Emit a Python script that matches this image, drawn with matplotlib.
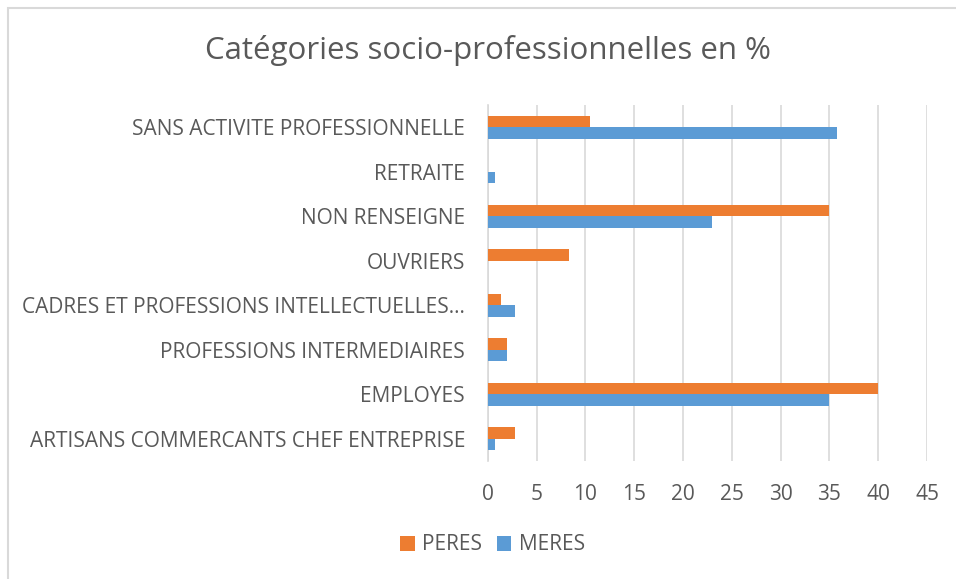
import matplotlib
matplotlib.use("Agg")
import matplotlib.pyplot as plt
from matplotlib.patches import Rectangle
import numpy as np

plt.rcParams['font.family'] = ['Open Sans', 'DejaVu Sans']

categories = [
    "ARTISANS COMMERCANTS CHEF ENTREPRISE",
    "EMPLOYES",
    "PROFESSIONS INTERMEDIAIRES",
    "CADRES ET PROFESSIONS INTELLECTUELLES…",
    "OUVRIERS",
    "NON RENSEIGNE",
    "RETRAITE",
    "SANS ACTIVITE PROFESSIONNELLE",
]
peres = [2.8, 40.0, 2.0, 1.4, 8.3, 35.0, 0.0, 10.5]
meres = [0.7, 35.0, 2.0, 2.8, 0.0, 23.0, 0.7, 35.8]
xticks = [0, 5, 10, 15, 20, 25, 30, 35, 40, 45]
title = "Catégories socio-professionnelles en %"

TXT = "#595959"
ORANGE = "#ED7D31"
BLUE = "#5B9BD5"

W, H = 956, 579
fig = plt.figure(figsize=(W / 100, H / 100), dpi=100)
ax = fig.add_axes([487.7 / W, 1 - 461 / H, (927 - 487.7) / W, (461 - 105) / H])

y = np.arange(len(categories))
h = 0.26
ax.barh(y + h / 2, peres, height=h, color=ORANGE, label="PERES", zorder=3)
ax.barh(y - h / 2, meres, height=h, color=BLUE, label="MERES", zorder=3)

ax.set_xlim(0, 45)
ax.set_ylim(-0.5, len(categories) - 0.5)
ax.set_xticks(xticks)
ax.set_xticklabels([str(t) for t in xticks])
ax.set_yticks(y)
ax.set_yticklabels(categories)
ax.tick_params(axis='both', length=0, colors=TXT, labelsize=15)
ax.tick_params(axis='y', pad=16.3)
ax.tick_params(axis='x', pad=16.5)
ax.grid(axis='x', color="#D9D9D9", linewidth=1.2, zorder=0)
for s in ['top', 'right', 'bottom']:
    ax.spines[s].set_visible(False)
ax.spines['left'].set_color("#D9D9D9")
ax.spines['left'].set_linewidth(1.2)

fig.text(487.5 / W, 1 - 51 / H, title, ha='center', va='center', fontsize=22.5, color=TXT)

handles, labels = ax.get_legend_handles_labels()
leg = fig.legend(handles, labels, loc='center', bbox_to_anchor=(492.5 / W, 1 - 545 / H),
                 ncol=2, frameon=False, fontsize=15, handlelength=0.7, handleheight=0.7,
                 handletextpad=0.35, columnspacing=0.7, labelcolor=TXT,
                 borderpad=0, borderaxespad=0)

fig.patches.append(Rectangle((8 / W, -0.1), 1.2, 1 - 8 / H + 0.1, transform=fig.transFigure,
                             fill=False, edgecolor="#D9D9D9", linewidth=1.5))

fig.savefig("out.png", dpi=100, facecolor="white")
